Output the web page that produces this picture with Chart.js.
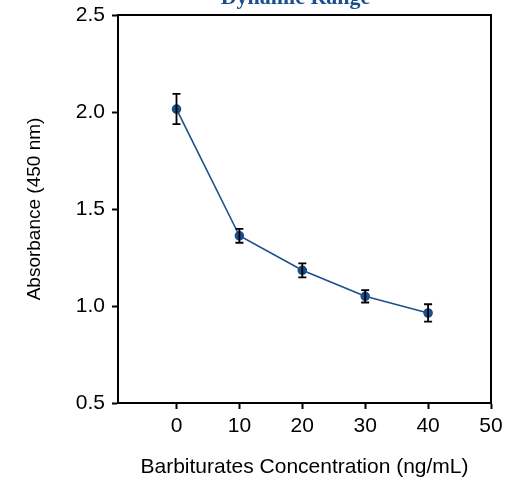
<!DOCTYPE html>
<html>
<head>
  <title>Dynamic Range</title>
  <script src="https://cdn.jsdelivr.net/npm/chart.js"></script>
  <style>
    body { margin: 0; background-color: #fff; }
    #wrap { width: 506px; height: 481px; position: relative; }
  </style>
</head>
<body>
  <div id="wrap"><canvas id="chart"></canvas></div>
  <script>
    var concentrations = [0, 10, 20, 30, 40];
    var absorbance = [2.015, 1.362, 1.184, 1.05, 0.964];
    var errors = [0.078, 0.036, 0.036, 0.032, 0.045];
    var xTicks = [0, 10, 20, 30, 40, 50];
    var yTicks = [0.5, 1.0, 1.5, 2.0, 2.5];

    var blue = '#1b4f8c';
    var sans = '"Liberation Sans", Arial, sans-serif';

    // error bars + frame + clipped title
    var extras = {
      id: 'extras',
      afterDatasetsDraw: function(chart) {
        var ctx = chart.ctx;
        var xs = chart.scales.x, ys = chart.scales.y;
        ctx.save();
        ctx.strokeStyle = '#000';
        ctx.lineWidth = 1.8;
        for (var i = 0; i < concentrations.length; i++) {
          var px = xs.getPixelForValue(concentrations[i]);
          var top = ys.getPixelForValue(absorbance[i] + errors[i]);
          var bot = ys.getPixelForValue(absorbance[i] - errors[i]);
          ctx.beginPath();
          ctx.moveTo(px, top); ctx.lineTo(px, bot);
          ctx.moveTo(px - 4, top); ctx.lineTo(px + 4, top);
          ctx.moveTo(px - 4, bot); ctx.lineTo(px + 4, bot);
          ctx.stroke();
        }
        ctx.restore();
      },
      afterDraw: function(chart) {
        var ctx = chart.ctx, a = chart.chartArea;
        ctx.save();
        ctx.strokeStyle = '#000';
        ctx.lineWidth = 2;
        ctx.strokeRect(a.left, a.top, a.right - a.left, a.bottom - a.top);
        ctx.fillStyle = blue;
        ctx.font = 'bold 22px "Liberation Serif", serif';
        ctx.textAlign = 'center';
        ctx.textBaseline = 'alphabetic';
        ctx.fillText('Dynamic Range', (a.left + a.right) / 2 - 9, a.top - 11);
        ctx.restore();
      }
    };

    new Chart(document.getElementById('chart'), {
      type: 'line',
      data: {
        datasets: [{
          data: concentrations.map(function(c, i) { return { x: c, y: absorbance[i] }; }),
          borderColor: blue,
          backgroundColor: blue,
          borderWidth: 1.6,
          pointRadius: 4,
          tension: 0
        }]
      },
      options: {
        responsive: true,
        maintainAspectRatio: false,
        animation: false,
        layout: { padding: { top: 15, right: 15, left: 0, bottom: 0 } },
        plugins: { legend: { display: false }, tooltip: { enabled: false } },
        scales: {
          x: {
            type: 'linear',
            min: -9.3,
            max: 50,
            afterBuildTicks: function(s) { s.ticks = xTicks.map(function(v) { return { value: v }; }); },
            afterFit: function(s) { s.height = 78; s.paddingLeft = 0; s.paddingRight = 0; },
            grid: { drawOnChartArea: false, color: '#000', tickLength: 6, tickWidth: 2 },
            border: { color: '#000', width: 2 },
            ticks: { color: '#000', font: { family: sans, size: 21 }, padding: 5, maxRotation: 0 },
            title: { display: true, text: 'Barbiturates Concentration (ng/mL)', color: '#000',
                     font: { family: sans, size: 21 }, padding: { top: 4, bottom: 1 } }
          },
          y: {
            min: 0.5,
            max: 2.5,
            afterBuildTicks: function(s) { s.ticks = yTicks.map(function(v) { return { value: v }; }); },
            afterFit: function(s) { s.width = 118; s.paddingTop = 0; s.paddingBottom = 0; },
            grid: { drawOnChartArea: false, color: '#000', tickLength: 6, tickWidth: 2 },
            border: { color: '#000', width: 2 },
            ticks: { color: '#000', font: { family: sans, size: 21 }, padding: 7,
                     callback: function(v) { return v.toFixed(1); } },
            title: { display: true, text: 'Absorbance (450 nm)', color: '#000',
                     font: { family: sans, size: 19 }, padding: { top: 23, bottom: 4 } }
          }
        }
      },
      plugins: [extras]
    });
  </script>
</body>
</html>
